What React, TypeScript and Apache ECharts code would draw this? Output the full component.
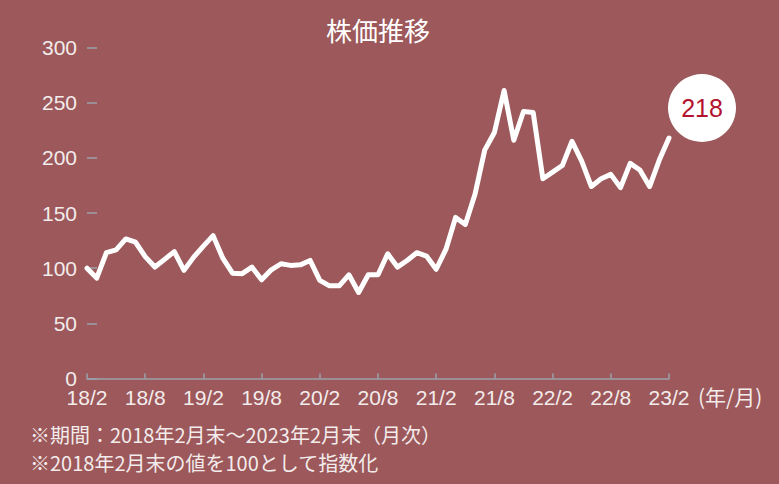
import React, { useEffect, useRef } from "react";
import * as echarts from "echarts";

const categories: string[] = [
  "18/2", "18/3", "18/4", "18/5", "18/6", "18/7", "18/8", "18/9", "18/10", "18/11", "18/12",
  "19/1", "19/2", "19/3", "19/4", "19/5", "19/6", "19/7", "19/8", "19/9", "19/10", "19/11", "19/12",
  "20/1", "20/2", "20/3", "20/4", "20/5", "20/6", "20/7", "20/8", "20/9", "20/10", "20/11", "20/12",
  "21/1", "21/2", "21/3", "21/4", "21/5", "21/6", "21/7", "21/8", "21/9", "21/10", "21/11", "21/12",
  "22/1", "22/2", "22/3", "22/4", "22/5", "22/6", "22/7", "22/8", "22/9", "22/10", "22/11", "22/12",
  "23/1", "23/2",
];

const stockIndex: number[] = [
  100, 91, 114, 116.5, 126.5, 123.5, 110.5, 101, 108, 115, 98,
  110, 120, 129.5, 109, 95.5, 95, 101, 89.5, 98.5, 104, 102.5, 103,
  107, 89, 84, 84, 94, 78, 94, 94, 113, 101, 107, 114,
  111, 99, 117, 146, 139.5, 167, 207, 223, 261, 216, 242, 241,
  181, 187, 193, 215, 197, 174, 181, 185, 173, 195, 189, 174,
  198, 218,
];

const yTicks = { min: 0, max: 300, interval: 50 };
const title = "株価推移";
const unitLabel = "(年/月)";
const notes = [
  "※期間：2018年2月末～2023年2月末（月次）",
  "※2018年2月末の値を100として指数化",
];

const FONT = "'Liberation Sans', 'Noto Sans CJK JP', sans-serif";
const JFONT = "'Noto Sans CJK JP', 'Liberation Sans', sans-serif";

export default function App() {
  const ref = useRef<HTMLDivElement>(null);
  useEffect(() => {
    if (!ref.current) return;
    const chart = echarts.init(ref.current, null, { renderer: "svg" });
    const last = stockIndex.length - 1;
    chart.setOption({
      animation: false,
      backgroundColor: "#9c585a",
      textStyle: { fontFamily: FONT },
      grid: { left: 87, right: 110, top: 47.5, bottom: 105.5, containLabel: false },
      xAxis: {
        type: "category",
        data: categories,
        boundaryGap: false,
        axisLine: { show: true, lineStyle: { color: "#9aa2ab", width: 1.5 } },
        axisTick: { show: true, inside: true, length: 5, interval: 5, lineStyle: { color: "#9aa2ab", width: 1.5 } },
        axisLabel: { interval: 5, color: "#f3ecec", fontSize: 21, lineHeight: 17, margin: 10, fontFamily: FONT },
        splitLine: { show: false },
      },
      yAxis: {
        type: "value",
        min: yTicks.min,
        max: yTicks.max,
        interval: yTicks.interval,
        axisLine: { show: false },
        axisTick: { show: true, inside: true, length: 10, lineStyle: { color: "#9aa2ab", width: 1.5 } },
        axisLabel: { color: "#f3ecec", fontSize: 21, lineHeight: 15, margin: 10, fontFamily: FONT },
        splitLine: { show: false },
      },
      series: [
        {
          type: "line",
          data: stockIndex,
          symbol: "none",
          lineStyle: { color: "#ffffff", width: 5, join: "round", cap: "round" },
          markPoint: {
            symbol: "circle",
            symbolSize: 68,
            symbolOffset: [33, -30],
            itemStyle: { color: "#ffffff" },
            label: {
              show: true,
              position: "inside",
              color: "#b3132e",
              fontSize: 25,
              fontFamily: FONT,
              formatter: () => String(stockIndex[last]),
            },
            data: [{ coord: [categories[last], stockIndex[last]], value: stockIndex[last] }],
          },
        },
      ],
      graphic: [
        {
          type: "text",
          x: 378,
          y: 29,
          style: {
            text: title,
            fill: "#ffffff",
            font: `26px ${JFONT}`,
            textAlign: "center",
            textVerticalAlign: "middle",
          },
        },
        {
          type: "text",
          x: 698,
          y: 396,
          style: {
            text: unitLabel,
            fill: "#f3ecec",
            font: `21px ${JFONT}`,
            textAlign: "left",
            textVerticalAlign: "middle",
          },
        },
        {
          type: "text",
          x: 30,
          y: 434,
          style: {
            text: notes[0],
            fill: "#f3ecec",
            font: `20px ${JFONT}`,
            textAlign: "left",
            textVerticalAlign: "middle",
          },
        },
        {
          type: "text",
          x: 30,
          y: 462,
          style: {
            text: notes[1],
            fill: "#f3ecec",
            font: `20px ${JFONT}`,
            textAlign: "left",
            textVerticalAlign: "middle",
          },
        },
      ],
    });
    return () => chart.dispose();
  }, []);
  return (
    <div
      ref={ref}
      style={{ position: "absolute", left: 0, top: 0, width: 779, height: 484 }}
    />
  );
}
